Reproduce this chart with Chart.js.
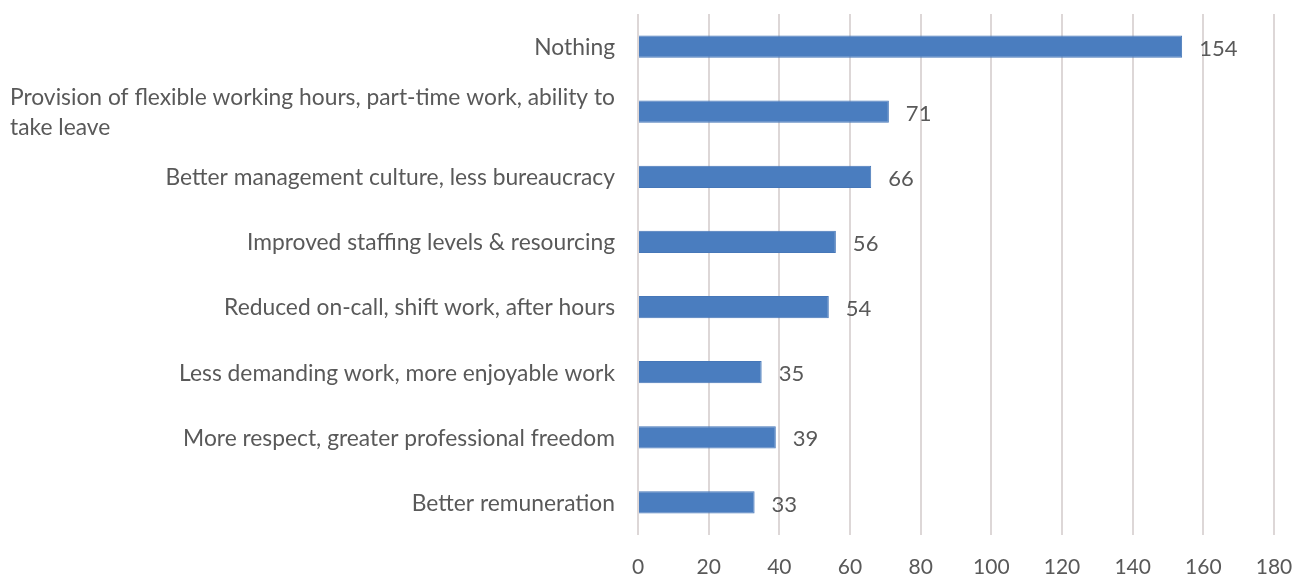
<!DOCTYPE html>
<html>
<head>
<meta charset="utf-8">
<script src="https://cdn.jsdelivr.net/npm/chart.js@4"></script>
<style>
  html, body { margin: 0; padding: 0; background: #ffffff; }
  #wrap { width: 1296px; height: 576px; position: relative; }
</style>
</head>
<body>
<div id="wrap"><canvas id="chart" width="1296" height="576"></canvas></div>
<script>
// Survey responses: what would make respondents stay
const categories = [
  ["Nothing"],
  ["Provision of flexible working hours, part-time work, ability to", "take leave"],
  ["Better management culture, less bureaucracy"],
  ["Improved staffing levels & resourcing "],
  ["Reduced on-call, shift work, after hours"],
  ["Less demanding work, more enjoyable work"],
  ["More respect, greater professional freedom"],
  ["Better remuneration"]
];
const responses = [154, 71, 66, 56, 54, 35, 39, 33];
const xTicks = [0, 20, 40, 60, 80, 100, 120, 140, 160, 180];

const TEXT = '#595959';
const FONT = 'Lato, "Open Sans", sans-serif';

// Category labels: each block is right-aligned to the axis, lines inside it left-aligned
const categoryLabels = {
  id: 'categoryLabels',
  afterDraw(chart) {
    const ctx = chart.ctx;
    const y = chart.scales.y;
    const right = chart.chartArea.left - 23;
    const lh = 30;
    ctx.save();
    ctx.font = '22.8px ' + FONT;
    ctx.fillStyle = TEXT;
    ctx.textBaseline = 'middle';
    ctx.textAlign = 'left';
    categories.forEach((lines, i) => {
      const cy = y.getPixelForValue(i) + 1;
      const w = Math.max(...lines.map(l => ctx.measureText(l.trimEnd()).width));
      const x0 = right - w;
      const top = cy - (lines.length - 1) * lh / 2;
      lines.forEach((l, j) => ctx.fillText(l, x0, top + j * lh));
    });
    ctx.restore();
  }
};

// Value labels just past the end of each bar
const valueLabels = {
  id: 'valueLabels',
  afterDatasetsDraw(chart) {
    const ctx = chart.ctx;
    const meta = chart.getDatasetMeta(0);
    ctx.save();
    ctx.font = '22px ' + FONT;
    ctx.fillStyle = TEXT;
    ctx.textBaseline = 'middle';
    ctx.textAlign = 'left';
    meta.data.forEach((bar, i) => {
      ctx.fillText(String(responses[i]), bar.x + 17, bar.y + 2);
    });
    ctx.restore();
  }
};

new Chart(document.getElementById('chart'), {
  type: 'bar',
  data: {
    labels: categories.map(c => c.join(' ')),
    datasets: [{
      data: responses,
      backgroundColor: '#4a7dbf',
      borderColor: '#4677b8',
      borderWidth: 1,
      barPercentage: 0.34,
      categoryPercentage: 1
    }]
  },
  options: {
    indexAxis: 'y',
    responsive: false,
    animation: false,
    layout: { padding: { top: 14, right: 22, left: 0, bottom: 0 } },
    plugins: { legend: { display: false }, tooltip: { enabled: false } },
    scales: {
      x: {
        min: 0,
        max: 180,
        afterBuildTicks(scale) { scale.ticks = xTicks.map(v => ({ value: v })); },
        afterFit(scale) {
          scale.height = 41;
          scale.paddingLeft = 0;
          scale.paddingRight = 0;
        },
        grid: { color: '#ddd7d7', lineWidth: 2, drawTicks: false },
        border: { display: false },
        ticks: { color: TEXT, font: { family: FONT, size: 21 }, padding: 20 }
      },
      y: {
        afterFit(scale) { scale.width = 638; },
        grid: { display: false, drawTicks: false },
        border: { display: false },
        ticks: { display: false }
      }
    }
  },
  plugins: [categoryLabels, valueLabels]
});
</script>
</body>
</html>
